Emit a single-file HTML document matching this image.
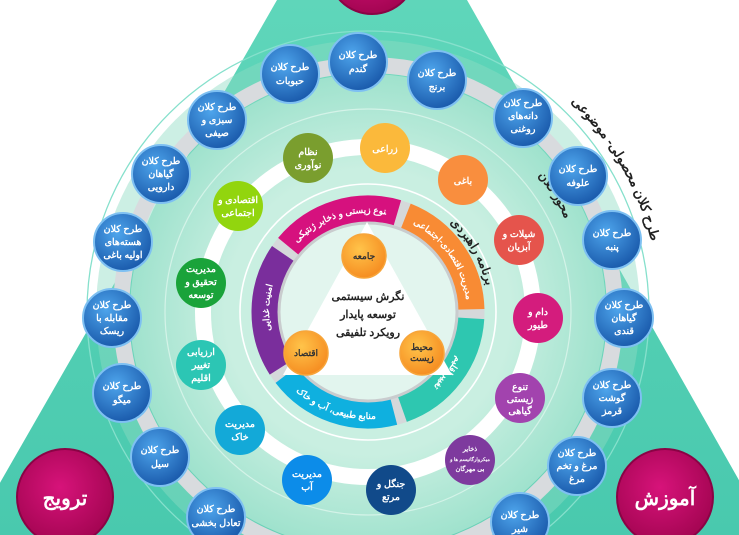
<!DOCTYPE html>
<html><head><meta charset="utf-8"><style>
html,body{margin:0;padding:0;background:#fff;width:739px;height:535px;overflow:hidden}
svg{display:block}
text{font-family:"Liberation Sans","Noto Sans CJK SC",sans-serif;}
.w{fill:#fff;font-size:9.5px;text-anchor:middle;font-weight:bold}
.b{fill:#222;font-size:11px;text-anchor:middle;font-weight:bold}
</style></head><body>
<svg width="739" height="535" viewBox="0 0 739 535" xmlns="http://www.w3.org/2000/svg" overflow="hidden">
<defs>
<radialGradient id="bl" cx="40%" cy="35%" r="70%"><stop offset="0" stop-color="#4ea5ec"/><stop offset="1" stop-color="#1756a8"/></radialGradient>
<radialGradient id="or" cx="40%" cy="35%" r="70%"><stop offset="0" stop-color="#ffc44a"/><stop offset="1" stop-color="#f58a1f"/></radialGradient>
<radialGradient id="pk" cx="45%" cy="40%" r="65%"><stop offset="0" stop-color="#d7137a"/><stop offset="1" stop-color="#a0044f"/></radialGradient>
<linearGradient id="tri" x1="0" y1="0" x2="0" y2="1"><stop offset="0" stop-color="#5fd6ba"/><stop offset="1" stop-color="#49c9ae"/></linearGradient>
<radialGradient id="disk" cx="50%" cy="50%" r="50%"><stop offset="0.6" stop-color="#c9efe1"/><stop offset="1" stop-color="#9fe2cd"/></radialGradient>
<path id="p1" d="M298,242 A99,99 0 0 1 386.9,214.8"/>
<path id="p2" d="M411.4,223 A99,99 0 0 1 466.5,301.7"/>
<path id="p3" d="M465.5,329.2 A99,99 0 0 1 409.8,401.7"/>
<path id="p4" d="M286,380.8 A107,107 0 0 0 390.2,416.7"/>
<path id="p5" d="M278.3,353.8 A99,99 0 0 1 282.3,262.5"/>
<path id="po" d="M563.4,95 A292,292 0 0 1 653.6,251.3"/>
<path id="pm" d="M530,166.1 A218,218 0 0 1 570.1,230.3"/>
<path id="pr" d="M442.5,216.7 A121,121 0 0 1 487.8,295.2"/>
</defs>
<polygon points="277,0 467,0 770,535 -30,535" fill="url(#tri)"/>
<circle cx="368" cy="312" r="281" fill="none" stroke="#86e0cc" stroke-width="1.3"/>
<circle cx="368" cy="312" r="272" fill="#8fdcc4" opacity="0.45"/>
<circle cx="368" cy="312" r="247" fill="none" stroke="#d8dbde" stroke-width="16"/>
<circle cx="368" cy="312" r="238" fill="url(#disk)"/>
<circle cx="368" cy="312" r="203" fill="none" stroke="#d4f3e8" stroke-width="1.2"/>
<circle cx="368" cy="312" r="165" fill="none" stroke="#ffffff" stroke-width="16"/>
<circle cx="368" cy="312" r="128" fill="none" stroke="#ffffff" stroke-width="1.6"/>
<circle cx="368" cy="312" r="103" fill="none" stroke="#d5d8da" stroke-width="27"/>
<g fill="none" stroke-width="27" stroke-dasharray="120.4 526.8">
<circle cx="368" cy="312" r="103" stroke="#d6117e" transform="rotate(-140.5 368 312)"/>
<circle cx="368" cy="312" r="103" stroke="#f88b34" transform="rotate(-68.5 368 312)"/>
<circle cx="368" cy="312" r="103" stroke="#2ec7b0" transform="rotate(3.5 368 312)"/>
<circle cx="368" cy="312" r="103" stroke="#0fb0df" transform="rotate(75.5 368 312)"/>
<circle cx="368" cy="312" r="103" stroke="#7a2e9c" transform="rotate(147.5 368 312)"/>
</g>
<circle cx="368" cy="312" r="89" fill="#e2f5ee" stroke="#c9ccce" stroke-width="3"/>
<polygon points="367,222 283,375 452,375" fill="#ffffff"/>
<g font-size="9" fill="#fff" font-weight="bold">
<text><textPath href="#p1" startOffset="50%" text-anchor="middle">تنوع زیستی و ذخایر ژنتیکی</textPath></text>
<text><textPath href="#p2" startOffset="50%" text-anchor="middle">مدیریت اقتصادی-اجتماعی</textPath></text>
<text><textPath href="#p3" startOffset="50%" text-anchor="middle">تغییر اقلیم</textPath></text>
<text><textPath href="#p4" startOffset="50%" text-anchor="middle">منابع طبیعی، آب و خاک</textPath></text>
<text><textPath href="#p5" startOffset="50%" text-anchor="middle">امنیت غذایی</textPath></text>
</g>
<g font-size="13" fill="#222" font-weight="bold">
<text><textPath href="#po" startOffset="50%" text-anchor="middle">طرح کلان محصولی- موضوعی</textPath></text>
<text font-size="12"><textPath href="#pm" startOffset="50%" text-anchor="middle">محور کلان</textPath></text>
<text font-size="12"><textPath href="#pr" startOffset="50%" text-anchor="middle">برنامه راهبردی</textPath></text>
</g>
<text class="b" x="368" y="300">نگرش سیستمی</text>
<text class="b" x="368" y="318">توسعه پایدار</text>
<text class="b" x="368" y="336">رویکرد تلفیقی</text>
<g stroke="#f7a53a" stroke-width="1.5">
<circle cx="364" cy="256" r="22" fill="url(#or)"/>
<circle cx="306" cy="353" r="22" fill="url(#or)"/>
<circle cx="422" cy="353" r="22" fill="url(#or)"/>
</g>
<g font-size="9" fill="#333" text-anchor="middle" font-weight="bold">
<text x="364" y="259">جامعه</text>
<text x="306" y="356">اقتصاد</text>
<text x="422" y="350">محیط</text><text x="422" y="361">زیست</text>
</g>
<g>
<circle cx="385" cy="148" r="25" fill="#fbb93b"/>
<circle cx="463" cy="180" r="25" fill="#f98e3e"/>
<circle cx="519" cy="240" r="25" fill="#e5544c"/>
<circle cx="538" cy="318" r="25" fill="#d41c7d"/>
<circle cx="520" cy="398" r="25" fill="#a243ae"/>
<circle cx="470" cy="460" r="25" fill="#7e3a9e"/>
<circle cx="391" cy="490" r="25" fill="#114a8a"/>
<circle cx="307" cy="480" r="25" fill="#0c8ce9"/>
<circle cx="240" cy="430" r="25" fill="#13a9d8"/>
<circle cx="201" cy="365" r="25" fill="#2cc6b4"/>
<circle cx="201" cy="283" r="25" fill="#1aa33a"/>
<circle cx="238" cy="206" r="25" fill="#92d50e"/>
<circle cx="308" cy="158" r="25" fill="#7a9e2e"/>
</g>
<g>
<text class="w" x="385" y="152">زراعی</text>
<text class="w" x="463" y="184">باغی</text>
<text class="w" x="519" y="237">شیلات و</text><text class="w" x="519" y="250">آبزیان</text>
<text class="w" x="538" y="315">دام و</text><text class="w" x="538" y="328">طیور</text>
<text class="w" x="520" y="390">تنوع</text><text class="w" x="520" y="402">زیستی</text><text class="w" x="520" y="414">گیاهی</text>
<text class="w" x="470" y="451" style="font-size:6.5px">ذخایر</text><text class="w" x="470" y="461" style="font-size:5px">میکروارگانیسم ها و</text><text class="w" x="470" y="471" style="font-size:6.5px">بی مهرگان</text>
<text class="w" x="391" y="487">جنگل و</text><text class="w" x="391" y="500">مرتع</text>
<text class="w" x="307" y="477">مدیریت</text><text class="w" x="307" y="490">آب</text>
<text class="w" x="240" y="427">مدیریت</text><text class="w" x="240" y="440">خاک</text>
<text class="w" x="201" y="355">ارزیابی</text><text class="w" x="201" y="368">تغییر</text><text class="w" x="201" y="381">اقلیم</text>
<text class="w" x="201" y="272">مدیریت</text><text class="w" x="201" y="285">تحقیق و</text><text class="w" x="201" y="298">توسعه</text>
<text class="w" x="238" y="203">اقتصادی و</text><text class="w" x="238" y="216">اجتماعی</text>
<text class="w" x="308" y="155">نظام</text><text class="w" x="308" y="168">نوآوری</text>
</g>
<g fill="url(#bl)" stroke="#7ec0f2" stroke-width="2">
<circle cx="358" cy="62" r="29"/><circle cx="437" cy="80" r="29"/><circle cx="290" cy="74" r="29"/>
<circle cx="217" cy="120" r="29"/><circle cx="161" cy="174" r="29"/><circle cx="123" cy="242" r="29"/>
<circle cx="112" cy="318" r="29"/><circle cx="122" cy="393" r="29"/><circle cx="160" cy="457" r="29"/>
<circle cx="216" cy="517" r="29"/><circle cx="523" cy="118" r="29"/><circle cx="578" cy="176" r="29"/>
<circle cx="612" cy="240" r="29"/><circle cx="624" cy="318" r="29"/><circle cx="612" cy="398" r="29"/>
<circle cx="577" cy="466" r="29"/><circle cx="520" cy="522" r="29"/>
</g>
<g>
<text class="w" x="358" y="58">طرح کلان</text><text class="w" x="358" y="72">گندم</text>
<text class="w" x="437" y="76">طرح کلان</text><text class="w" x="437" y="90">برنج</text>
<text class="w" x="290" y="70">طرح کلان</text><text class="w" x="290" y="84">حبوبات</text>
<text class="w" x="217" y="110">طرح کلان</text><text class="w" x="217" y="123">سبزی و</text><text class="w" x="217" y="136">صیفی</text>
<text class="w" x="161" y="164">طرح کلان</text><text class="w" x="161" y="177">گیاهان</text><text class="w" x="161" y="190">دارویی</text>
<text class="w" x="123" y="232">طرح کلان</text><text class="w" x="123" y="245">هسته‌های</text><text class="w" x="123" y="258">اولیه باغی</text>
<text class="w" x="112" y="308">طرح کلان</text><text class="w" x="112" y="321">مقابله با</text><text class="w" x="112" y="334">ریسک</text>
<text class="w" x="122" y="389">طرح کلان</text><text class="w" x="122" y="403">میگو</text>
<text class="w" x="160" y="453">طرح کلان</text><text class="w" x="160" y="467">سیل</text>
<text class="w" x="216" y="512">طرح کلان</text><text class="w" x="216" y="526">تعادل بخشی</text>
<text class="w" x="523" y="106">طرح کلان</text><text class="w" x="523" y="119">دانه‌های</text><text class="w" x="523" y="132">روغنی</text>
<text class="w" x="578" y="172">طرح کلان</text><text class="w" x="578" y="186">علوفه</text>
<text class="w" x="612" y="236">طرح کلان</text><text class="w" x="612" y="250">پنبه</text>
<text class="w" x="624" y="308">طرح کلان</text><text class="w" x="624" y="321">گیاهان</text><text class="w" x="624" y="334">قندی</text>
<text class="w" x="612" y="388">طرح کلان</text><text class="w" x="612" y="401">گوشت</text><text class="w" x="612" y="414">قرمز</text>
<text class="w" x="577" y="456">طرح کلان</text><text class="w" x="577" y="469">مرغ و تخم</text><text class="w" x="577" y="482">مرغ</text>
<text class="w" x="520" y="518">طرح کلان</text><text class="w" x="520" y="532">شیر</text>
</g>
<g fill="url(#pk)" stroke="#8a0345" stroke-width="2">
<circle cx="372" cy="-30" r="44"/>
<circle cx="65" cy="497" r="48"/>
<circle cx="665" cy="497" r="48"/>
</g>
<text x="65" y="505" fill="#fff" font-size="20" font-weight="bold" text-anchor="middle">ترویج</text>
<text x="665" y="505" fill="#fff" font-size="20" font-weight="bold" text-anchor="middle">آموزش</text>
</svg>
</body></html>
